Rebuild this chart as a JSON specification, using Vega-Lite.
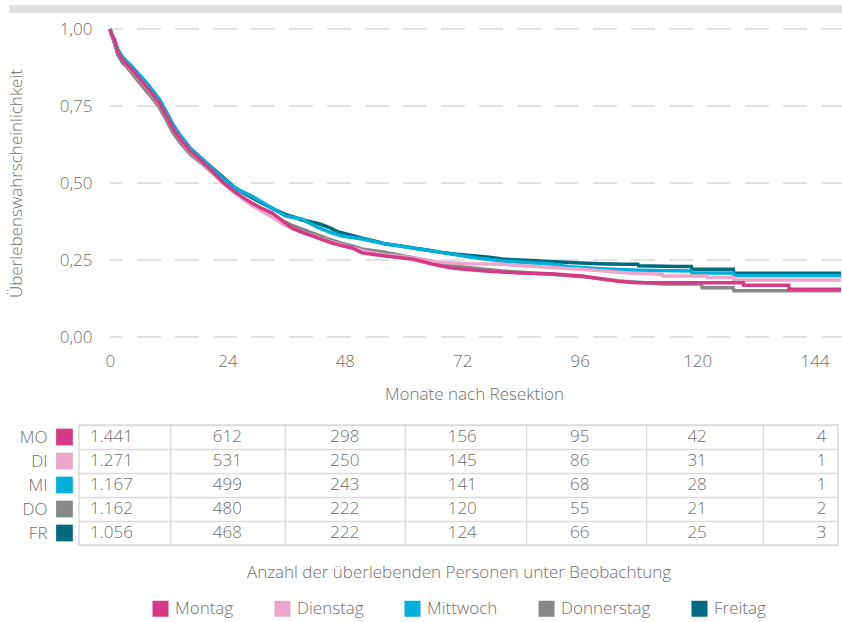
{
  "$schema": "https://vega.github.io/schema/vega-lite/v6.json",
  "background": "white",
  "padding": {"left": 7, "top": 4, "right": 0, "bottom": 0},
  "config": {
    "font": "Open Sans",
    "locale": {"number": {"decimal": ",", "thousands": ".", "grouping": [3], "currency": ["", " €"]}},
    "view": {"stroke": null},
    "axis": {
      "labelFont": "Open Sans", "labelFontSize": 17, "labelFontWeight": 300, "labelColor": "#6f6f6f",
      "titleFont": "Open Sans", "titleFontSize": 17, "titleFontWeight": 300, "titleColor": "#6f6f6f",
      "domain": false, "ticks": false, "tickSize": 0
    },
    "legend": {
      "labelFont": "Open Sans", "labelFontSize": 17, "labelFontWeight": 300, "labelColor": "#6f6f6f",
      "layout": {"bottom": {"anchor": "middle"}}
    },
    "text": {"font": "Open Sans", "fontSize": 17, "fontWeight": 300, "color": "#6f6f6f"}
  },
  "datasets": {
    "kurven": [
      {"Tag": "Freitag", "Monat": 0, "Anteil": 1},
      {"Tag": "Freitag", "Monat": 0.3, "Anteil": 0.983},
      {"Tag": "Freitag", "Monat": 0.9, "Anteil": 0.955},
      {"Tag": "Freitag", "Monat": 1.6, "Anteil": 0.918},
      {"Tag": "Freitag", "Monat": 2.6, "Anteil": 0.89},
      {"Tag": "Freitag", "Monat": 4.3, "Anteil": 0.866},
      {"Tag": "Freitag", "Monat": 6, "Anteil": 0.842},
      {"Tag": "Freitag", "Monat": 8, "Anteil": 0.81},
      {"Tag": "Freitag", "Monat": 10.1, "Anteil": 0.768},
      {"Tag": "Freitag", "Monat": 11.4, "Anteil": 0.73},
      {"Tag": "Freitag", "Monat": 12.8, "Anteil": 0.688},
      {"Tag": "Freitag", "Monat": 14.5, "Anteil": 0.648},
      {"Tag": "Freitag", "Monat": 16.5, "Anteil": 0.608},
      {"Tag": "Freitag", "Monat": 18.9, "Anteil": 0.576},
      {"Tag": "Freitag", "Monat": 21, "Anteil": 0.548},
      {"Tag": "Freitag", "Monat": 23, "Anteil": 0.52},
      {"Tag": "Freitag", "Monat": 25.1, "Anteil": 0.49},
      {"Tag": "Freitag", "Monat": 27, "Anteil": 0.47},
      {"Tag": "Freitag", "Monat": 29, "Anteil": 0.452},
      {"Tag": "Freitag", "Monat": 31, "Anteil": 0.435},
      {"Tag": "Freitag", "Monat": 33.1, "Anteil": 0.418},
      {"Tag": "Freitag", "Monat": 35.8, "Anteil": 0.398},
      {"Tag": "Freitag", "Monat": 37.5, "Anteil": 0.39},
      {"Tag": "Freitag", "Monat": 39.2, "Anteil": 0.38},
      {"Tag": "Freitag", "Monat": 41, "Anteil": 0.374},
      {"Tag": "Freitag", "Monat": 43, "Anteil": 0.366},
      {"Tag": "Freitag", "Monat": 45, "Anteil": 0.354},
      {"Tag": "Freitag", "Monat": 46.5, "Anteil": 0.342},
      {"Tag": "Freitag", "Monat": 49.5, "Anteil": 0.33},
      {"Tag": "Freitag", "Monat": 51.5, "Anteil": 0.321},
      {"Tag": "Freitag", "Monat": 54, "Anteil": 0.312},
      {"Tag": "Freitag", "Monat": 56.2, "Anteil": 0.303},
      {"Tag": "Freitag", "Monat": 59, "Anteil": 0.296},
      {"Tag": "Freitag", "Monat": 61.7, "Anteil": 0.29},
      {"Tag": "Freitag", "Monat": 63.8, "Anteil": 0.285},
      {"Tag": "Freitag", "Monat": 65.8, "Anteil": 0.28},
      {"Tag": "Freitag", "Monat": 68, "Anteil": 0.274},
      {"Tag": "Freitag", "Monat": 69.9, "Anteil": 0.27},
      {"Tag": "Freitag", "Monat": 72.5, "Anteil": 0.266},
      {"Tag": "Freitag", "Monat": 75.4, "Anteil": 0.262},
      {"Tag": "Freitag", "Monat": 78, "Anteil": 0.258},
      {"Tag": "Freitag", "Monat": 80.1, "Anteil": 0.253},
      {"Tag": "Freitag", "Monat": 85, "Anteil": 0.249},
      {"Tag": "Freitag", "Monat": 90, "Anteil": 0.245},
      {"Tag": "Freitag", "Monat": 95, "Anteil": 0.241},
      {"Tag": "Freitag", "Monat": 100, "Anteil": 0.238},
      {"Tag": "Freitag", "Monat": 105, "Anteil": 0.236},
      {"Tag": "Freitag", "Monat": 107.9, "Anteil": 0.236},
      {"Tag": "Freitag", "Monat": 108, "Anteil": 0.231},
      {"Tag": "Freitag", "Monat": 116, "Anteil": 0.229},
      {"Tag": "Freitag", "Monat": 118.8, "Anteil": 0.229},
      {"Tag": "Freitag", "Monat": 118.9, "Anteil": 0.22},
      {"Tag": "Freitag", "Monat": 127.4, "Anteil": 0.22},
      {"Tag": "Freitag", "Monat": 127.5, "Anteil": 0.207},
      {"Tag": "Freitag", "Monat": 149.4, "Anteil": 0.207},

      {"Tag": "Donnerstag", "Monat": 0, "Anteil": 1},
      {"Tag": "Donnerstag", "Monat": 0.3, "Anteil": 0.984},
      {"Tag": "Donnerstag", "Monat": 0.9, "Anteil": 0.96},
      {"Tag": "Donnerstag", "Monat": 1.6, "Anteil": 0.922},
      {"Tag": "Donnerstag", "Monat": 2.6, "Anteil": 0.892},
      {"Tag": "Donnerstag", "Monat": 4.3, "Anteil": 0.86},
      {"Tag": "Donnerstag", "Monat": 6, "Anteil": 0.826},
      {"Tag": "Donnerstag", "Monat": 8, "Anteil": 0.788},
      {"Tag": "Donnerstag", "Monat": 10.1, "Anteil": 0.745},
      {"Tag": "Donnerstag", "Monat": 11.4, "Anteil": 0.708},
      {"Tag": "Donnerstag", "Monat": 12.8, "Anteil": 0.665},
      {"Tag": "Donnerstag", "Monat": 14.5, "Anteil": 0.628},
      {"Tag": "Donnerstag", "Monat": 16.5, "Anteil": 0.592},
      {"Tag": "Donnerstag", "Monat": 18.9, "Anteil": 0.562},
      {"Tag": "Donnerstag", "Monat": 21, "Anteil": 0.532},
      {"Tag": "Donnerstag", "Monat": 23, "Anteil": 0.502},
      {"Tag": "Donnerstag", "Monat": 25.1, "Anteil": 0.474},
      {"Tag": "Donnerstag", "Monat": 27, "Anteil": 0.452},
      {"Tag": "Donnerstag", "Monat": 29, "Anteil": 0.432},
      {"Tag": "Donnerstag", "Monat": 31, "Anteil": 0.414},
      {"Tag": "Donnerstag", "Monat": 33.1, "Anteil": 0.396},
      {"Tag": "Donnerstag", "Monat": 35.2, "Anteil": 0.378},
      {"Tag": "Donnerstag", "Monat": 37.2, "Anteil": 0.362},
      {"Tag": "Donnerstag", "Monat": 39.3, "Anteil": 0.35},
      {"Tag": "Donnerstag", "Monat": 41.3, "Anteil": 0.338},
      {"Tag": "Donnerstag", "Monat": 43.4, "Anteil": 0.326},
      {"Tag": "Donnerstag", "Monat": 45.4, "Anteil": 0.314},
      {"Tag": "Donnerstag", "Monat": 47.5, "Anteil": 0.304},
      {"Tag": "Donnerstag", "Monat": 49.5, "Anteil": 0.296},
      {"Tag": "Donnerstag", "Monat": 51.5, "Anteil": 0.286},
      {"Tag": "Donnerstag", "Monat": 54, "Anteil": 0.28},
      {"Tag": "Donnerstag", "Monat": 56.2, "Anteil": 0.275},
      {"Tag": "Donnerstag", "Monat": 59, "Anteil": 0.266},
      {"Tag": "Donnerstag", "Monat": 61.7, "Anteil": 0.258},
      {"Tag": "Donnerstag", "Monat": 63.8, "Anteil": 0.252},
      {"Tag": "Donnerstag", "Monat": 65.8, "Anteil": 0.246},
      {"Tag": "Donnerstag", "Monat": 68, "Anteil": 0.238},
      {"Tag": "Donnerstag", "Monat": 69.9, "Anteil": 0.232},
      {"Tag": "Donnerstag", "Monat": 73, "Anteil": 0.226},
      {"Tag": "Donnerstag", "Monat": 76.6, "Anteil": 0.22},
      {"Tag": "Donnerstag", "Monat": 80.1, "Anteil": 0.214},
      {"Tag": "Donnerstag", "Monat": 84, "Anteil": 0.21},
      {"Tag": "Donnerstag", "Monat": 88, "Anteil": 0.206},
      {"Tag": "Donnerstag", "Monat": 92, "Anteil": 0.201},
      {"Tag": "Donnerstag", "Monat": 96.5, "Anteil": 0.196},
      {"Tag": "Donnerstag", "Monat": 100.6, "Anteil": 0.188},
      {"Tag": "Donnerstag", "Monat": 104, "Anteil": 0.182},
      {"Tag": "Donnerstag", "Monat": 108, "Anteil": 0.178},
      {"Tag": "Donnerstag", "Monat": 112.8, "Anteil": 0.172},
      {"Tag": "Donnerstag", "Monat": 120.9, "Anteil": 0.172},
      {"Tag": "Donnerstag", "Monat": 121, "Anteil": 0.16},
      {"Tag": "Donnerstag", "Monat": 127.4, "Anteil": 0.16},
      {"Tag": "Donnerstag", "Monat": 127.5, "Anteil": 0.15},
      {"Tag": "Donnerstag", "Monat": 149.4, "Anteil": 0.15},

      {"Tag": "Mittwoch", "Monat": 0, "Anteil": 1},
      {"Tag": "Mittwoch", "Monat": 0.3, "Anteil": 0.986},
      {"Tag": "Mittwoch", "Monat": 0.9, "Anteil": 0.968},
      {"Tag": "Mittwoch", "Monat": 1.6, "Anteil": 0.935},
      {"Tag": "Mittwoch", "Monat": 2.6, "Anteil": 0.908},
      {"Tag": "Mittwoch", "Monat": 4.3, "Anteil": 0.882},
      {"Tag": "Mittwoch", "Monat": 6, "Anteil": 0.852},
      {"Tag": "Mittwoch", "Monat": 8, "Anteil": 0.815},
      {"Tag": "Mittwoch", "Monat": 10.1, "Anteil": 0.772},
      {"Tag": "Mittwoch", "Monat": 11.4, "Anteil": 0.735},
      {"Tag": "Mittwoch", "Monat": 12.8, "Anteil": 0.692},
      {"Tag": "Mittwoch", "Monat": 14.5, "Anteil": 0.652},
      {"Tag": "Mittwoch", "Monat": 16.5, "Anteil": 0.612},
      {"Tag": "Mittwoch", "Monat": 18.9, "Anteil": 0.578},
      {"Tag": "Mittwoch", "Monat": 21, "Anteil": 0.545},
      {"Tag": "Mittwoch", "Monat": 23, "Anteil": 0.515},
      {"Tag": "Mittwoch", "Monat": 25.1, "Anteil": 0.488},
      {"Tag": "Mittwoch", "Monat": 27, "Anteil": 0.472},
      {"Tag": "Mittwoch", "Monat": 29, "Anteil": 0.458},
      {"Tag": "Mittwoch", "Monat": 31, "Anteil": 0.438},
      {"Tag": "Mittwoch", "Monat": 33.1, "Anteil": 0.419},
      {"Tag": "Mittwoch", "Monat": 35.8, "Anteil": 0.393},
      {"Tag": "Mittwoch", "Monat": 37.5, "Anteil": 0.388},
      {"Tag": "Mittwoch", "Monat": 39.2, "Anteil": 0.383},
      {"Tag": "Mittwoch", "Monat": 41, "Anteil": 0.368},
      {"Tag": "Mittwoch", "Monat": 42.7, "Anteil": 0.354},
      {"Tag": "Mittwoch", "Monat": 45, "Anteil": 0.34},
      {"Tag": "Mittwoch", "Monat": 47.4, "Anteil": 0.328},
      {"Tag": "Mittwoch", "Monat": 49.5, "Anteil": 0.323},
      {"Tag": "Mittwoch", "Monat": 51.5, "Anteil": 0.318},
      {"Tag": "Mittwoch", "Monat": 54, "Anteil": 0.31},
      {"Tag": "Mittwoch", "Monat": 56.2, "Anteil": 0.302},
      {"Tag": "Mittwoch", "Monat": 59, "Anteil": 0.296},
      {"Tag": "Mittwoch", "Monat": 61.7, "Anteil": 0.289},
      {"Tag": "Mittwoch", "Monat": 63.8, "Anteil": 0.284},
      {"Tag": "Mittwoch", "Monat": 65.8, "Anteil": 0.279},
      {"Tag": "Mittwoch", "Monat": 68, "Anteil": 0.274},
      {"Tag": "Mittwoch", "Monat": 69.9, "Anteil": 0.269},
      {"Tag": "Mittwoch", "Monat": 72.5, "Anteil": 0.262},
      {"Tag": "Mittwoch", "Monat": 75.4, "Anteil": 0.256},
      {"Tag": "Mittwoch", "Monat": 78, "Anteil": 0.251},
      {"Tag": "Mittwoch", "Monat": 80.1, "Anteil": 0.247},
      {"Tag": "Mittwoch", "Monat": 85, "Anteil": 0.242},
      {"Tag": "Mittwoch", "Monat": 90.3, "Anteil": 0.237},
      {"Tag": "Mittwoch", "Monat": 93.8, "Anteil": 0.228},
      {"Tag": "Mittwoch", "Monat": 100, "Anteil": 0.222},
      {"Tag": "Mittwoch", "Monat": 108, "Anteil": 0.217},
      {"Tag": "Mittwoch", "Monat": 118.8, "Anteil": 0.214},
      {"Tag": "Mittwoch", "Monat": 118.9, "Anteil": 0.208},
      {"Tag": "Mittwoch", "Monat": 127.4, "Anteil": 0.208},
      {"Tag": "Mittwoch", "Monat": 127.5, "Anteil": 0.2},
      {"Tag": "Mittwoch", "Monat": 149.4, "Anteil": 0.2},

      {"Tag": "Dienstag", "Monat": 0, "Anteil": 1},
      {"Tag": "Dienstag", "Monat": 0.3, "Anteil": 0.984},
      {"Tag": "Dienstag", "Monat": 0.9, "Anteil": 0.962},
      {"Tag": "Dienstag", "Monat": 1.6, "Anteil": 0.925},
      {"Tag": "Dienstag", "Monat": 2.6, "Anteil": 0.898},
      {"Tag": "Dienstag", "Monat": 4.3, "Anteil": 0.87},
      {"Tag": "Dienstag", "Monat": 6, "Anteil": 0.838},
      {"Tag": "Dienstag", "Monat": 8, "Anteil": 0.8},
      {"Tag": "Dienstag", "Monat": 10.1, "Anteil": 0.757},
      {"Tag": "Dienstag", "Monat": 11.4, "Anteil": 0.72},
      {"Tag": "Dienstag", "Monat": 12.8, "Anteil": 0.677},
      {"Tag": "Dienstag", "Monat": 14.5, "Anteil": 0.638},
      {"Tag": "Dienstag", "Monat": 16.5, "Anteil": 0.6},
      {"Tag": "Dienstag", "Monat": 18.9, "Anteil": 0.567},
      {"Tag": "Dienstag", "Monat": 21, "Anteil": 0.534},
      {"Tag": "Dienstag", "Monat": 23, "Anteil": 0.502},
      {"Tag": "Dienstag", "Monat": 25.1, "Anteil": 0.474},
      {"Tag": "Dienstag", "Monat": 27, "Anteil": 0.45},
      {"Tag": "Dienstag", "Monat": 29, "Anteil": 0.428},
      {"Tag": "Dienstag", "Monat": 31, "Anteil": 0.408},
      {"Tag": "Dienstag", "Monat": 33.1, "Anteil": 0.39},
      {"Tag": "Dienstag", "Monat": 35.2, "Anteil": 0.368},
      {"Tag": "Dienstag", "Monat": 37.2, "Anteil": 0.352},
      {"Tag": "Dienstag", "Monat": 39.3, "Anteil": 0.34},
      {"Tag": "Dienstag", "Monat": 41.3, "Anteil": 0.33},
      {"Tag": "Dienstag", "Monat": 43.4, "Anteil": 0.318},
      {"Tag": "Dienstag", "Monat": 45.4, "Anteil": 0.308},
      {"Tag": "Dienstag", "Monat": 47.5, "Anteil": 0.298},
      {"Tag": "Dienstag", "Monat": 49.5, "Anteil": 0.29},
      {"Tag": "Dienstag", "Monat": 51.5, "Anteil": 0.28},
      {"Tag": "Dienstag", "Monat": 54, "Anteil": 0.272},
      {"Tag": "Dienstag", "Monat": 56.2, "Anteil": 0.266},
      {"Tag": "Dienstag", "Monat": 59, "Anteil": 0.262},
      {"Tag": "Dienstag", "Monat": 61.7, "Anteil": 0.257},
      {"Tag": "Dienstag", "Monat": 63.8, "Anteil": 0.252},
      {"Tag": "Dienstag", "Monat": 65.8, "Anteil": 0.246},
      {"Tag": "Dienstag", "Monat": 68, "Anteil": 0.242},
      {"Tag": "Dienstag", "Monat": 70, "Anteil": 0.24},
      {"Tag": "Dienstag", "Monat": 73, "Anteil": 0.238},
      {"Tag": "Dienstag", "Monat": 76.6, "Anteil": 0.237},
      {"Tag": "Dienstag", "Monat": 80.1, "Anteil": 0.236},
      {"Tag": "Dienstag", "Monat": 86, "Anteil": 0.23},
      {"Tag": "Dienstag", "Monat": 92, "Anteil": 0.224},
      {"Tag": "Dienstag", "Monat": 97, "Anteil": 0.219},
      {"Tag": "Dienstag", "Monat": 101, "Anteil": 0.214},
      {"Tag": "Dienstag", "Monat": 106, "Anteil": 0.208},
      {"Tag": "Dienstag", "Monat": 112.9, "Anteil": 0.204},
      {"Tag": "Dienstag", "Monat": 113, "Anteil": 0.198},
      {"Tag": "Dienstag", "Monat": 121.9, "Anteil": 0.198},
      {"Tag": "Dienstag", "Monat": 122, "Anteil": 0.193},
      {"Tag": "Dienstag", "Monat": 127.4, "Anteil": 0.193},
      {"Tag": "Dienstag", "Monat": 127.5, "Anteil": 0.185},
      {"Tag": "Dienstag", "Monat": 149.4, "Anteil": 0.185},

      {"Tag": "Montag", "Monat": 0, "Anteil": 1},
      {"Tag": "Montag", "Monat": 0.3, "Anteil": 0.985},
      {"Tag": "Montag", "Monat": 0.9, "Anteil": 0.964},
      {"Tag": "Montag", "Monat": 1.6, "Anteil": 0.926},
      {"Tag": "Montag", "Monat": 2.6, "Anteil": 0.899},
      {"Tag": "Montag", "Monat": 4.3, "Anteil": 0.872},
      {"Tag": "Montag", "Monat": 6, "Anteil": 0.84},
      {"Tag": "Montag", "Monat": 8, "Anteil": 0.802},
      {"Tag": "Montag", "Monat": 10.1, "Anteil": 0.759},
      {"Tag": "Montag", "Monat": 11.4, "Anteil": 0.721},
      {"Tag": "Montag", "Monat": 12.8, "Anteil": 0.678},
      {"Tag": "Montag", "Monat": 14.5, "Anteil": 0.64},
      {"Tag": "Montag", "Monat": 16.5, "Anteil": 0.602},
      {"Tag": "Montag", "Monat": 18.9, "Anteil": 0.569},
      {"Tag": "Montag", "Monat": 21, "Anteil": 0.537},
      {"Tag": "Montag", "Monat": 23, "Anteil": 0.504},
      {"Tag": "Montag", "Monat": 25.1, "Anteil": 0.477},
      {"Tag": "Montag", "Monat": 27, "Anteil": 0.455},
      {"Tag": "Montag", "Monat": 29, "Anteil": 0.435},
      {"Tag": "Montag", "Monat": 31, "Anteil": 0.418},
      {"Tag": "Montag", "Monat": 33.1, "Anteil": 0.403},
      {"Tag": "Montag", "Monat": 35.2, "Anteil": 0.378},
      {"Tag": "Montag", "Monat": 37.2, "Anteil": 0.354},
      {"Tag": "Montag", "Monat": 39.3, "Anteil": 0.34},
      {"Tag": "Montag", "Monat": 41.3, "Anteil": 0.328},
      {"Tag": "Montag", "Monat": 43.4, "Anteil": 0.316},
      {"Tag": "Montag", "Monat": 45.4, "Anteil": 0.305},
      {"Tag": "Montag", "Monat": 47.5, "Anteil": 0.296},
      {"Tag": "Montag", "Monat": 49.5, "Anteil": 0.289},
      {"Tag": "Montag", "Monat": 51.5, "Anteil": 0.273},
      {"Tag": "Montag", "Monat": 54, "Anteil": 0.268},
      {"Tag": "Montag", "Monat": 56.2, "Anteil": 0.263},
      {"Tag": "Montag", "Monat": 59, "Anteil": 0.258},
      {"Tag": "Montag", "Monat": 61.7, "Anteil": 0.253},
      {"Tag": "Montag", "Monat": 63.8, "Anteil": 0.245},
      {"Tag": "Montag", "Monat": 65.8, "Anteil": 0.237},
      {"Tag": "Montag", "Monat": 68, "Anteil": 0.23},
      {"Tag": "Montag", "Monat": 69.9, "Anteil": 0.224},
      {"Tag": "Montag", "Monat": 73, "Anteil": 0.219},
      {"Tag": "Montag", "Monat": 76.6, "Anteil": 0.214},
      {"Tag": "Montag", "Monat": 80.1, "Anteil": 0.211},
      {"Tag": "Montag", "Monat": 83.6, "Anteil": 0.208},
      {"Tag": "Montag", "Monat": 87, "Anteil": 0.206},
      {"Tag": "Montag", "Monat": 90.3, "Anteil": 0.205},
      {"Tag": "Montag", "Monat": 93.5, "Anteil": 0.201},
      {"Tag": "Montag", "Monat": 96.5, "Anteil": 0.198},
      {"Tag": "Montag", "Monat": 100.6, "Anteil": 0.188},
      {"Tag": "Montag", "Monat": 104, "Anteil": 0.181},
      {"Tag": "Montag", "Monat": 107.4, "Anteil": 0.176},
      {"Tag": "Montag", "Monat": 129.4, "Anteil": 0.176},
      {"Tag": "Montag", "Monat": 129.5, "Anteil": 0.168},
      {"Tag": "Montag", "Monat": 138.7, "Anteil": 0.168},
      {"Tag": "Montag", "Monat": 138.8, "Anteil": 0.155},
      {"Tag": "Montag", "Monat": 149.4, "Anteil": 0.155}
    ],
    "tabelle": [
      {"Tag": "Montag", "Kuerzel": "MO", "Monat": 0, "Anzahl": 1441},
      {"Tag": "Montag", "Kuerzel": "MO", "Monat": 24, "Anzahl": 612},
      {"Tag": "Montag", "Kuerzel": "MO", "Monat": 48, "Anzahl": 298},
      {"Tag": "Montag", "Kuerzel": "MO", "Monat": 72, "Anzahl": 156},
      {"Tag": "Montag", "Kuerzel": "MO", "Monat": 96, "Anzahl": 95},
      {"Tag": "Montag", "Kuerzel": "MO", "Monat": 120, "Anzahl": 42},
      {"Tag": "Montag", "Kuerzel": "MO", "Monat": 144, "Anzahl": 4},
      {"Tag": "Dienstag", "Kuerzel": "DI", "Monat": 0, "Anzahl": 1271},
      {"Tag": "Dienstag", "Kuerzel": "DI", "Monat": 24, "Anzahl": 531},
      {"Tag": "Dienstag", "Kuerzel": "DI", "Monat": 48, "Anzahl": 250},
      {"Tag": "Dienstag", "Kuerzel": "DI", "Monat": 72, "Anzahl": 145},
      {"Tag": "Dienstag", "Kuerzel": "DI", "Monat": 96, "Anzahl": 86},
      {"Tag": "Dienstag", "Kuerzel": "DI", "Monat": 120, "Anzahl": 31},
      {"Tag": "Dienstag", "Kuerzel": "DI", "Monat": 144, "Anzahl": 1},
      {"Tag": "Mittwoch", "Kuerzel": "MI", "Monat": 0, "Anzahl": 1167},
      {"Tag": "Mittwoch", "Kuerzel": "MI", "Monat": 24, "Anzahl": 499},
      {"Tag": "Mittwoch", "Kuerzel": "MI", "Monat": 48, "Anzahl": 243},
      {"Tag": "Mittwoch", "Kuerzel": "MI", "Monat": 72, "Anzahl": 141},
      {"Tag": "Mittwoch", "Kuerzel": "MI", "Monat": 96, "Anzahl": 68},
      {"Tag": "Mittwoch", "Kuerzel": "MI", "Monat": 120, "Anzahl": 28},
      {"Tag": "Mittwoch", "Kuerzel": "MI", "Monat": 144, "Anzahl": 1},
      {"Tag": "Donnerstag", "Kuerzel": "DO", "Monat": 0, "Anzahl": 1162},
      {"Tag": "Donnerstag", "Kuerzel": "DO", "Monat": 24, "Anzahl": 480},
      {"Tag": "Donnerstag", "Kuerzel": "DO", "Monat": 48, "Anzahl": 222},
      {"Tag": "Donnerstag", "Kuerzel": "DO", "Monat": 72, "Anzahl": 120},
      {"Tag": "Donnerstag", "Kuerzel": "DO", "Monat": 96, "Anzahl": 55},
      {"Tag": "Donnerstag", "Kuerzel": "DO", "Monat": 120, "Anzahl": 21},
      {"Tag": "Donnerstag", "Kuerzel": "DO", "Monat": 144, "Anzahl": 2},
      {"Tag": "Freitag", "Kuerzel": "FR", "Monat": 0, "Anzahl": 1056},
      {"Tag": "Freitag", "Kuerzel": "FR", "Monat": 24, "Anzahl": 468},
      {"Tag": "Freitag", "Kuerzel": "FR", "Monat": 48, "Anzahl": 222},
      {"Tag": "Freitag", "Kuerzel": "FR", "Monat": 72, "Anzahl": 124},
      {"Tag": "Freitag", "Kuerzel": "FR", "Monat": 96, "Anzahl": 66},
      {"Tag": "Freitag", "Kuerzel": "FR", "Monat": 120, "Anzahl": 25},
      {"Tag": "Freitag", "Kuerzel": "FR", "Monat": 144, "Anzahl": 3}
    ]
  },
  "spacing": 13,
  "resolve": {"scale": {"color": "shared"}, "legend": {"color": "independent"}},
  "vconcat": [
    {
      "width": 765,
      "height": 308,
      "layer": [
        {
          "data": {"values": [{}]},
          "mark": {"type": "rect", "color": "#e0e0e0"},
          "encoding": {
            "x": {"datum": -20.6},
            "x2": {"datum": 150},
            "y": {"datum": 1.078},
            "y2": {"datum": 1.053}
          }
        },
        {
          "data": {"values": [{"Anteil": 0}, {"Anteil": 0.25}, {"Anteil": 0.5}, {"Anteil": 0.75}, {"Anteil": 1}]},
          "mark": {"type": "rule", "color": "#e2e2e2", "strokeWidth": 2, "strokeDash": [24, 14], "strokeDashOffset": 11},
          "encoding": {
            "x": {"datum": 0},
            "x2": {"datum": 150},
            "y": {"field": "Anteil", "type": "quantitative"}
          }
        },
        {
          "data": {"name": "kurven"},
          "mark": {"type": "line", "strokeWidth": 3.5, "interpolate": "linear"},
          "encoding": {
            "x": {
              "field": "Monat", "type": "quantitative",
              "scale": {"domain": [-6.33, 150], "nice": false, "zero": false},
              "axis": {
                "values": [0, 24, 48, 72, 96, 120, 144], "format": "d", "grid": false,
                "labelPadding": 16, "title": "Monate nach Resektion", "titlePadding": 17, "titleX": 395
              }
            },
            "y": {
              "field": "Anteil", "type": "quantitative",
              "scale": {"domain": [0, 1], "nice": false},
              "axis": {
                "values": [0, 0.25, 0.5, 0.75, 1], "format": ".2f", "grid": false,
                "offset": -18, "labelPadding": 5,
                "title": "Überlebenswahrscheinlichkeit", "titlePadding": 34
              }
            },
            "color": {
              "field": "Tag", "type": "nominal",
              "scale": {
                "domain": ["Montag", "Dienstag", "Mittwoch", "Donnerstag", "Freitag"],
                "range": ["#d63a84", "#eba6c9", "#00afdb", "#878787", "#006b7f"]
              },
              "legend": null
            }
          }
        }
      ]
    },
    {
      "width": 759,
      "height": 120,
      "data": {"name": "tabelle"},
      "view": {"stroke": "#dcdcdc", "strokeWidth": 1.5},
      "encoding": {
        "x": {
          "field": "Monat", "type": "quantitative",
          "scale": {"domain": [-6.33, 148.8], "nice": false, "zero": false},
          "axis": {
            "values": [12.2, 35.7, 60.4, 85.1, 109.6, 133.5], "labels": false, "grid": true,
            "gridColor": "#dcdcdc", "gridWidth": 1.5,
            "title": "Anzahl der überlebenden Personen unter Beobachtung", "titlePadding": 19
          }
        },
        "y": {
          "field": "Kuerzel", "type": "nominal",
          "sort": ["MO", "DI", "MI", "DO", "FR"],
          "scale": {"paddingInner": 0, "paddingOuter": 0},
          "axis": {
            "title": null, "grid": true, "tickBand": "extent",
            "gridColor": "#dcdcdc", "gridWidth": 1.5, "labelPadding": 32
          }
        }
      },
      "layer": [
        {
          "transform": [{"filter": "datum.Monat == 0"}],
          "mark": {"type": "point", "shape": "square", "filled": true, "size": 280, "opacity": 1},
          "encoding": {
            "x": {"datum": -9.3},
            "color": {
              "field": "Tag", "type": "nominal",
              "legend": {
                "title": null, "orient": "bottom", "direction": "horizontal",
                "symbolType": "square", "symbolSize": 256, "symbolStrokeWidth": 0, "symbolOpacity": 1,
                "labelOffset": 6, "columnPadding": 40, "offset": 20
              }
            }
          }
        },
        {
          "transform": [{"filter": "datum.Monat == 0"}],
          "mark": {"type": "text", "align": "left", "dx": -20, "baseline": "middle"},
          "encoding": {"text": {"field": "Anzahl", "type": "quantitative", "format": ",d"}}
        },
        {
          "transform": [{"filter": "datum.Monat > 0 && datum.Monat < 144"}],
          "mark": {"type": "text", "align": "center", "baseline": "middle"},
          "encoding": {"text": {"field": "Anzahl", "type": "quantitative", "format": ",d"}}
        },
        {
          "transform": [{"filter": "datum.Monat == 144"}],
          "mark": {"type": "text", "align": "right", "dx": 12, "baseline": "middle"},
          "encoding": {"text": {"field": "Anzahl", "type": "quantitative", "format": ",d"}}
        }
      ]
    }
  ]
}
